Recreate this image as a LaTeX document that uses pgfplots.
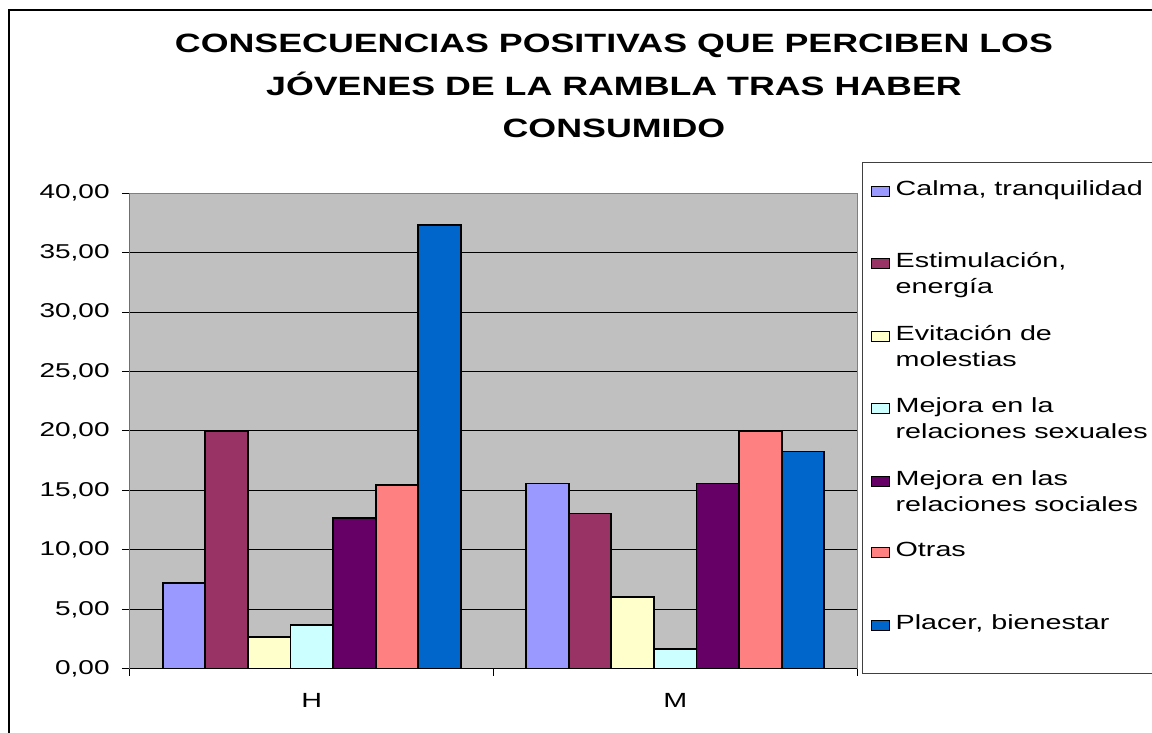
\documentclass[border=0pt]{standalone}
\usepackage{pgfplots}
\pgfplotsset{compat=1.18}
\usepackage{fontspec}
\setmainfont{Liberation Sans}
\newfontfamily\wf[FakeStretch=1.4]{Liberation Sans}
\newfontfamily\wtf[FakeStretch=1.35]{Liberation Sans}
\definecolor{cCalma}{HTML}{9999FF}
\definecolor{cEstim}{HTML}{993366}
\definecolor{cEvit}{HTML}{FFFFCC}
\definecolor{cSex}{HTML}{CCFFFF}
\definecolor{cSoc}{HTML}{660066}
\definecolor{cOtras}{HTML}{FF8080}
\definecolor{cPlacer}{HTML}{0066CC}
\definecolor{cPlot}{HTML}{C0C0C0}
\definecolor{cBorder}{HTML}{808080}
\pgfplotsset{
  legimg/.style={legend image code/.code={\draw[##1, line width=0.5pt] (0pt,-0.5pt) rectangle (9pt,4.5pt);}},
  barst/.style={draw=black, line width=0.9pt, fill=#1, legimg},
}
\begin{document}
\begin{tikzpicture}
\path[use as bounding box] (0,0) rectangle (576pt,366.5pt);
\fill[white] (0,0) rectangle (576pt,366.5pt);
\draw[black, line width=0.6pt] (4.5pt,-10pt) rectangle (600pt,361.5pt);
\draw[black!75, line width=0.5pt] (431pt,29.5pt) rectangle (600pt,285pt);
\begin{axis}[
  at={(65pt,32pt)}, anchor=south west,
  scale only axis, width=363.5pt, height=238pt,
  ybar=0pt, bar width=21.3pt,
  xmin=-0.5, xmax=1.5, ymin=0, ymax=40,
  xtick={0,1}, xticklabels={H,M},
  minor xtick={-0.5,0.5,1.5},
  ytick={0,5,...,40},
  xtick pos=bottom, ytick pos=left,
  tick align=outside,
  major tick length=4pt, minor tick length=3.5pt,
  tick style={black, line width=0.5pt},
  major x tick style={draw=none},
  ymajorgrids, grid style={black, line width=0.5pt},
  axis line style={draw=cBorder, line width=0.5pt},
  axis background/.style={fill=cPlot},
  /pgf/number format/assume math mode=true,
  yticklabel style={font=\wf\fontsize{10}{12}\selectfont, anchor=east, inner sep=0pt, xshift=-6pt,
    /pgf/number format/fixed, /pgf/number format/fixed zerofill,
    /pgf/number format/precision=2, /pgf/number format/use comma},
  xticklabel style={font=\wf\fontsize{10.25}{12}\selectfont, anchor=north, inner sep=0pt, yshift=-7.85pt},
  title={CONSECUENCIAS POSITIVAS QUE PERCIBEN LOS\\JÓVENES DE LA RAMBLA TRAS HABER\\CONSUMIDO},
  title style={at={(axis description cs:0.6657,1.309)}, anchor=north, inner sep=0pt, align=center,
    font=\wtf\bfseries\fontsize{13.25}{21.25}\selectfont},
  legend style={at={(axis description cs:1.0193,1.035)}, anchor=north west, draw=none, fill=none,
    inner sep=0pt, outer sep=0pt, row sep=23.25pt, column sep=0.8pt,
    font=\wf\fontsize{10.25}{13}\selectfont,
    cells={anchor=base west, inner sep=0pt, outer sep=0pt}},
]
\addplot[barst=cCalma] coordinates {(0,7.20) (1,15.58)};
\addlegendentry{Calma, tranquilidad}
\addplot[barst=cEstim] coordinates {(0,20.00) (1,13.06)};
\addlegendentry{\vtop{\hbox{Estimulación,}\hbox{energía}}}
\addplot[barst=cEvit] coordinates {(0,2.66) (1,6.08)};
\addlegendentry{\vtop{\hbox{Evitación de}\hbox{molestias}}}
\addplot[barst=cSex] coordinates {(0,3.67) (1,1.68)};
\addlegendentry{\vtop{\hbox{Mejora en la}\hbox{relaciones sexuales}}}
\addplot[barst=cSoc] coordinates {(0,12.72) (1,15.58)};
\addlegendentry{\vtop{\hbox{Mejora en las}\hbox{relaciones sociales}}}
\addplot[barst=cOtras] coordinates {(0,15.44) (1,20.00)};
\addlegendentry{Otras}
\addplot[barst=cPlacer] coordinates {(0,37.28) (1,18.27)};
\addlegendentry{Placer, bienestar}
\draw[black, line width=0.5pt] (rel axis cs:0,1) -- (rel axis cs:0,0) -- (rel axis cs:1,0);
\end{axis}
\end{tikzpicture}
\end{document}
